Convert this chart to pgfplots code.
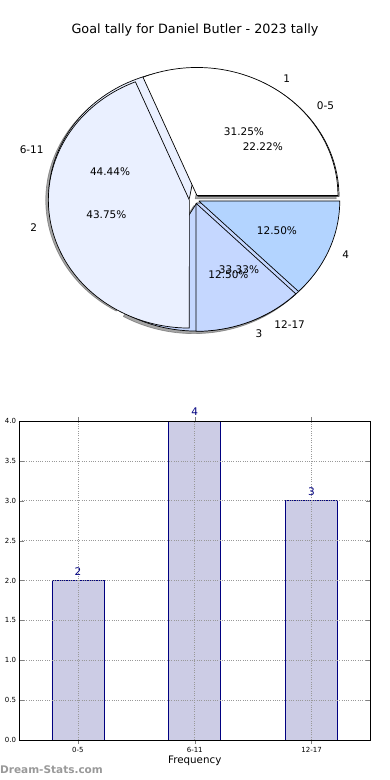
\documentclass[border=0pt]{standalone}
\usepackage{pgfplots}
\pgfplotsset{compat=1.18}
\usepackage{fontspec}
\setmainfont{DejaVu Sans}
\definecolor{pieW}{HTML}{FFFFFF}
\definecolor{pieL}{HTML}{EAF0FF}
\definecolor{pieM}{HTML}{C5D7FF}
\definecolor{pieD}{HTML}{B3D4FF}
\definecolor{barfill}{HTML}{CCCCE5}
\definecolor{barnavy}{HTML}{000080}
\definecolor{wmgray}{HTML}{999999}
% data: pie A (ranges) and pie B (tally)
\def\Aone{2}\def\Atwo{4}\def\Athree{3}
\def\Bone{5}\def\Btwo{7}\def\Bthree{2}\def\Bfour{2}
\pgfmathsetmacro\Atot{\Aone+\Atwo+\Athree}
\pgfmathsetmacro\Aa{360*\Aone/\Atot}
\pgfmathsetmacro\Ab{360*(\Aone+\Atwo)/\Atot}
\pgfmathsetmacro\Btot{\Bone+\Btwo+\Bthree+\Bfour}
\pgfmathsetmacro\Ba{360*\Bone/\Btot}
\pgfmathsetmacro\Bb{360*(\Bone+\Btwo)/\Btot}
\pgfmathsetmacro\Bc{360*(\Bone+\Btwo+\Bthree)/\Btot}
\def\ex{0.035}
% #1 start, #2 end, #3 style, #4 extra x offset, #5 extra y offset
\newcommand{\pieWedge}[5]{%
  \pgfmathsetmacro\wm{(#1+#2)/2}%
  \pgfmathsetmacro\wx{\ex*cos(\wm)+#4}%
  \pgfmathsetmacro\wy{\ex*sin(\wm)+#5}%
  \addplot[#3, domain=0:82, samples=83, variable=\t, line join=round]
   ({\wx + (((\t<0.5)||(\t>81.5)) ? 0 : 1)*cos(#1+(\t-1)*(#2-#1)/80)},
    {\wy + (((\t<0.5)||(\t>81.5)) ? 0 : 1)*sin(#1+(\t-1)*(#2-#1)/80)});
}
\begin{document}
\begin{tikzpicture}
\path[use as bounding box] (0pt,0pt) rectangle (390pt,780pt);
\node[font=\fontsize{12.8}{15}\selectfont] at (195pt,750pt) {Goal tally for Daniel Butler - 2023 tally};
% ---------------- pie ----------------
\begin{axis}[
  at={(194.2pt,580.8pt)}, anchor=center,
  scale only axis, width=366.6pt, height=332.8pt,
  xmin=-1.3, xmax=1.3, ymin=-1.3, ymax=1.3,
  hide axis, clip=false,
]
\pgfplotsset{shad/.style={fill=black!70, fill opacity=0.5, draw=black!70, draw opacity=0.5, line width=0.7pt}}
% shadows of pie A
\pieWedge{0}{\Aa}{shad}{-0.02}{-0.02}
\pieWedge{\Aa}{\Ab}{shad}{-0.02}{-0.02}
\pieWedge{\Ab}{360}{shad}{-0.02}{-0.02}
% pie A
\pieWedge{0}{\Aa}{fill=pieW, draw=black, line width=0.7pt}{0}{0}
\pieWedge{\Aa}{\Ab}{fill=pieL, draw=black, line width=0.7pt}{0}{0}
\pieWedge{\Ab}{360}{fill=pieM, draw=black, line width=0.7pt}{0}{0}
% pie B
\pieWedge{0}{\Ba}{fill=pieW, draw=black, line width=0.7pt}{0}{0}
\pieWedge{\Ba}{\Bb}{fill=pieL, draw=black, line width=0.7pt}{0}{0}
\pieWedge{\Bb}{\Bc}{fill=pieM, draw=black, line width=0.7pt}{0}{0}
\pieWedge{\Bc}{360}{fill=pieD, draw=black, line width=0.7pt}{0}{0}
% labels
\begin{scope}[every node/.style={font=\fontsize{10.5}{12}\selectfont, inner sep=0pt}]
\node[anchor=west] at (axis cs:0.8694,0.7296) {0-5};
\node[anchor=east] at (axis cs:-1.0666,0.3882) {6-11};
\node[anchor=west] at (axis cs:0.5675,-0.9829) {12-17};
\node at (axis cs:0.4864,0.4082) {22.22\%};
\node at (axis cs:-0.5967,0.2172) {44.44\%};
\node at (axis cs:0.3175,-0.5499) {33.33\%};
\node[anchor=west] at (axis cs:0.6306,0.9438) {1};
\node[anchor=east] at (axis cs:-1.1132,-0.2214) {2};
\node[anchor=west] at (axis cs:0.4344,-1.0486) {3};
\node[anchor=west] at (axis cs:1.0486,-0.4344) {4};
\node at (axis cs:0.3528,0.5280) {31.25\%};
\node at (axis cs:-0.6228,-0.1239) {43.75\%};
\node at (axis cs:0.2430,-0.5867) {12.50\%};
\node at (axis cs:0.5867,-0.2430) {12.50\%};
\end{scope}
\end{axis}
% ---------------- bars ----------------
\begin{axis}[
  at={(19.5pt,40pt)}, anchor=south west,
  scale only axis, width=350.5pt, height=319pt,
  xmin=-0.5, xmax=2.5, ymin=0, ymax=4,
  xtick={0,1,2}, xticklabels={0-5,6-11,12-17},
  ytick={0,0.5,...,4},
  /pgf/number format/assume math mode=true,
  yticklabel style={/pgf/number format/.cd, fixed, fixed zerofill, precision=1},
  tick label style={font=\fontsize{7}{8}\selectfont},
  xtick pos=both, ytick pos=both, tick align=inside,
  major tick length=4pt,
  grid=major,
  major grid style={gray!80, line width=0.6pt, dash pattern=on 1pt off 1.3pt},
  axis on top,
  axis line style={line width=0.9pt},
  xlabel={Frequency},
  xlabel style={font=\fontsize{10.3}{12}\selectfont, yshift=4pt},
  ybar, bar width=52pt,
  nodes near coords,
  nodes near coords style={font=\fontsize{10.5}{12}\selectfont, color=barnavy, inner sep=0pt, anchor=south, yshift=5pt},
]
\addplot[fill=barfill, draw=barnavy, line width=0.8pt] coordinates {(0,2) (1,4) (2,3)};
\end{axis}
\node[anchor=west, inner sep=0pt, font=\bfseries\fontsize{10.5}{12}\selectfont, color=wmgray] at (0pt,10pt) {Dream-Stats.com};
\end{tikzpicture}
\end{document}
